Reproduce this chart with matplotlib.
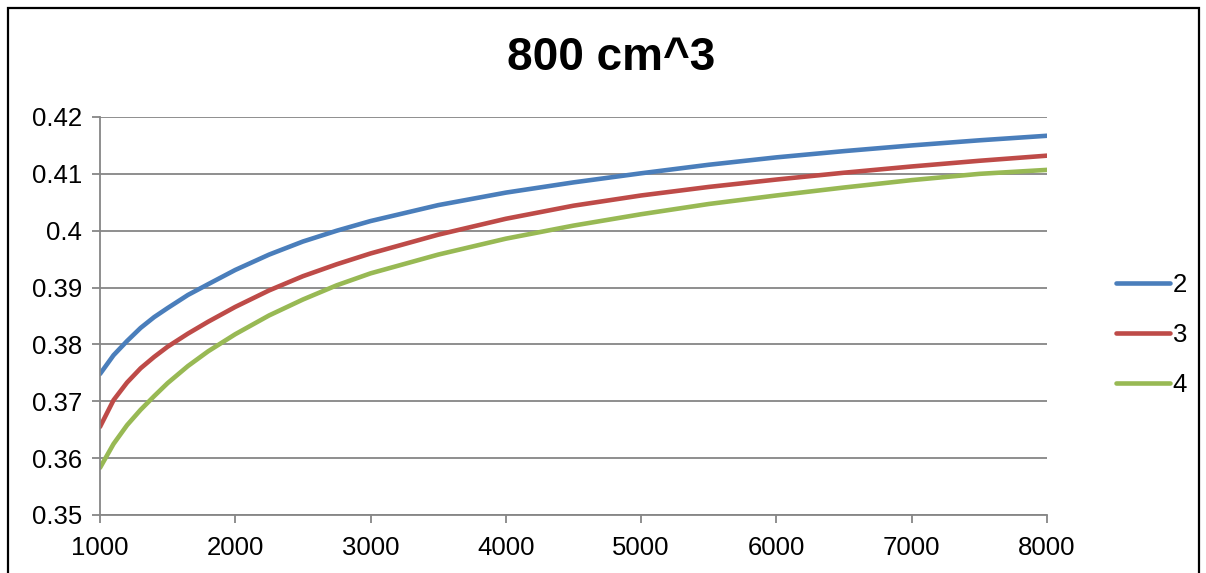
import matplotlib
matplotlib.use("Agg")
import matplotlib.pyplot as plt
from matplotlib.patches import Rectangle

plt.rcParams["font.family"] = ["Liberation Sans", "DejaVu Sans"]

# data
x = [1000, 1100, 1200, 1300, 1400, 1500, 1650, 1800, 2000, 2250, 2500, 2750,
     3000, 3500, 4000, 4500, 5000, 5500, 6000, 6500, 7000, 7500, 8000]
y2 = [0.3748, 0.3781, 0.3806, 0.3829, 0.3848, 0.3864, 0.3887, 0.3906, 0.3931,
      0.3958, 0.3981, 0.4000, 0.4017, 0.4045, 0.4067, 0.4085, 0.4101, 0.4116,
      0.4129, 0.4140, 0.4150, 0.4159, 0.4167]
y3 = [0.3655, 0.3702, 0.3733, 0.3758, 0.3778, 0.3796, 0.3819, 0.3840, 0.3866,
      0.3895, 0.3920, 0.3941, 0.3960, 0.3993, 0.4021, 0.4044, 0.4062, 0.4077,
      0.4090, 0.4102, 0.4113, 0.4123, 0.4132]
y4 = [0.3583, 0.3625, 0.3658, 0.3685, 0.3709, 0.3732, 0.3762, 0.3788, 0.3818,
      0.3851, 0.3879, 0.3904, 0.3925, 0.3958, 0.3986, 0.4009, 0.4029, 0.4047,
      0.4062, 0.4076, 0.4089, 0.4100, 0.4107]
labels = ["2", "3", "4"]
colors = ["#4A7EBB", "#BE4B48", "#98B954"]

fig = plt.figure(figsize=(12.06, 5.73), dpi=100)
ax = fig.add_axes([100 / 1206, 1 - 515 / 573, 947 / 1206, 398 / 573])

for ys, lab, c in zip([y2, y3, y4], labels, colors):
    ax.plot(x, ys, color=c, lw=3.3, label=lab, solid_capstyle="round")

ax.set_xlim(1000, 8000)
ax.set_ylim(0.35, 0.42)
ax.set_xticks(range(1000, 9000, 1000))
ax.set_yticks([0.35, 0.36, 0.37, 0.38, 0.39, 0.40, 0.41, 0.42])
ax.set_yticklabels(["0.35", "0.36", "0.37", "0.38", "0.39", "0.4", "0.41", "0.42"])
ax.grid(axis="y", color="#868686", lw=1.3)
ax.set_axisbelow(True)
for s in ["top", "right"]:
    ax.spines[s].set_visible(False)
for s in ["left", "bottom"]:
    ax.spines[s].set_color("#868686")
    ax.spines[s].set_linewidth(1.3)
ax.tick_params(axis="both", colors="#868686", length=6, width=1.3, labelsize=18.5,
               labelcolor="black")
ax.tick_params(axis="x", pad=9)
ax.tick_params(axis="y", pad=7)

fig.text(611 / 1206, 1 - 58 / 573, "800 cm^3", ha="center", va="center",
         fontsize=33, fontweight="bold")

ax.legend(loc="center left", bbox_to_anchor=(1116 / 1206, 1 - 335 / 573),
          bbox_transform=fig.transFigure, frameon=False, fontsize=18.5,
          handlelength=2.1, handletextpad=0.1, labelspacing=1.0,
          borderaxespad=0, borderpad=0)

fig.add_artist(Rectangle((8 / 1206, -0.1), 1191 / 1206, 1.1 - 8 / 573,
                         transform=fig.transFigure, fill=False,
                         edgecolor="black", lw=1.6))

fig.savefig("out.png", dpi=100)
